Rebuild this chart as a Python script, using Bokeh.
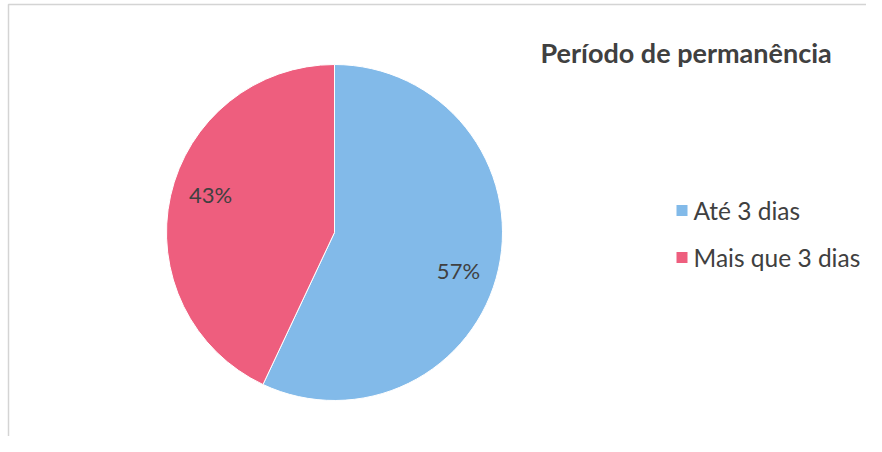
import math
from bokeh.plotting import figure
from bokeh.models import ColumnDataSource, Range1d
from bokeh.core.properties import value
from bokeh.embed import file_html
from bokeh.resources import INLINE

title = "Período de permanência"
categories = ["Até 3 dias", "Mais que 3 dias"]
values = [57, 43]
labels = ["57%", "43%"]
colors = ["#82BAE9", "#EE5E7E"]

W, H = 866, 436
p = figure(width=W, height=H, output_backend="svg", toolbar_location=None,
           x_range=Range1d(0, W), y_range=Range1d(0, H), min_border=0)
p.axis.visible = False
p.grid.visible = False
p.outline_line_color = None
p.background_fill_color = "white"
p.border_fill_color = "white"

# chart frame (light gray border, left & top visible)
p.quad(left=[8], right=[W + 20], top=[H - 4], bottom=[-30], fill_color=None,
       line_color="#d4d4d4", line_width=1.5)

cx, cy, R = 334, 204, 168
total = sum(values)
starts, ends, lx, ly = [], [], [], []
acc = 0.0
for v in values:
    a0 = math.pi / 2 - 2 * math.pi * acc / total
    a1 = math.pi / 2 - 2 * math.pi * (acc + v) / total
    starts.append(a0)
    ends.append(a1)
    mid = (a0 + a1) / 2
    lx.append(cx + 0.756 * R * math.cos(mid))
    ly.append(cy + 1.05 * R * math.sin(mid))
    acc += v

src = ColumnDataSource(dict(start=starts, end=ends, color=colors, lx=lx, ly=ly, label=labels, cat=categories))
p.wedge(x=cx, y=cy, radius=R, start_angle="start", end_angle="end", direction="clock",
        fill_color="color", line_color="white", line_width=1, source=src)
p.text(x="lx", y="ly", text="label", source=src, text_align="center", text_baseline="middle",
       text_font=value("Lato"), text_font_size="22px", text_color="#404040")

p.text(x=[540], y=[H - 52], text=[title], text_font=value("Lato"), text_font_style="bold",
       text_font_size="27px", text_color="#404040", text_baseline="alphabetic")

leg_top = H - 210
legy = [leg_top - i * 47 for i in range(len(categories))]
lsrc = ColumnDataSource(dict(x=[681.5] * len(categories), y=legy, tx=[693] * len(categories),
                             cat=categories, color=colors))
p.scatter(x="x", y="y", marker="square", size=11, fill_color="color", line_color=None, source=lsrc)
p.text(x="tx", y="y", text="cat", source=lsrc, text_baseline="middle", text_font=value("Lato"),
       text_font_size="24.5px", text_color="#404040")

open("out.html", "w").write(file_html(p, INLINE))
